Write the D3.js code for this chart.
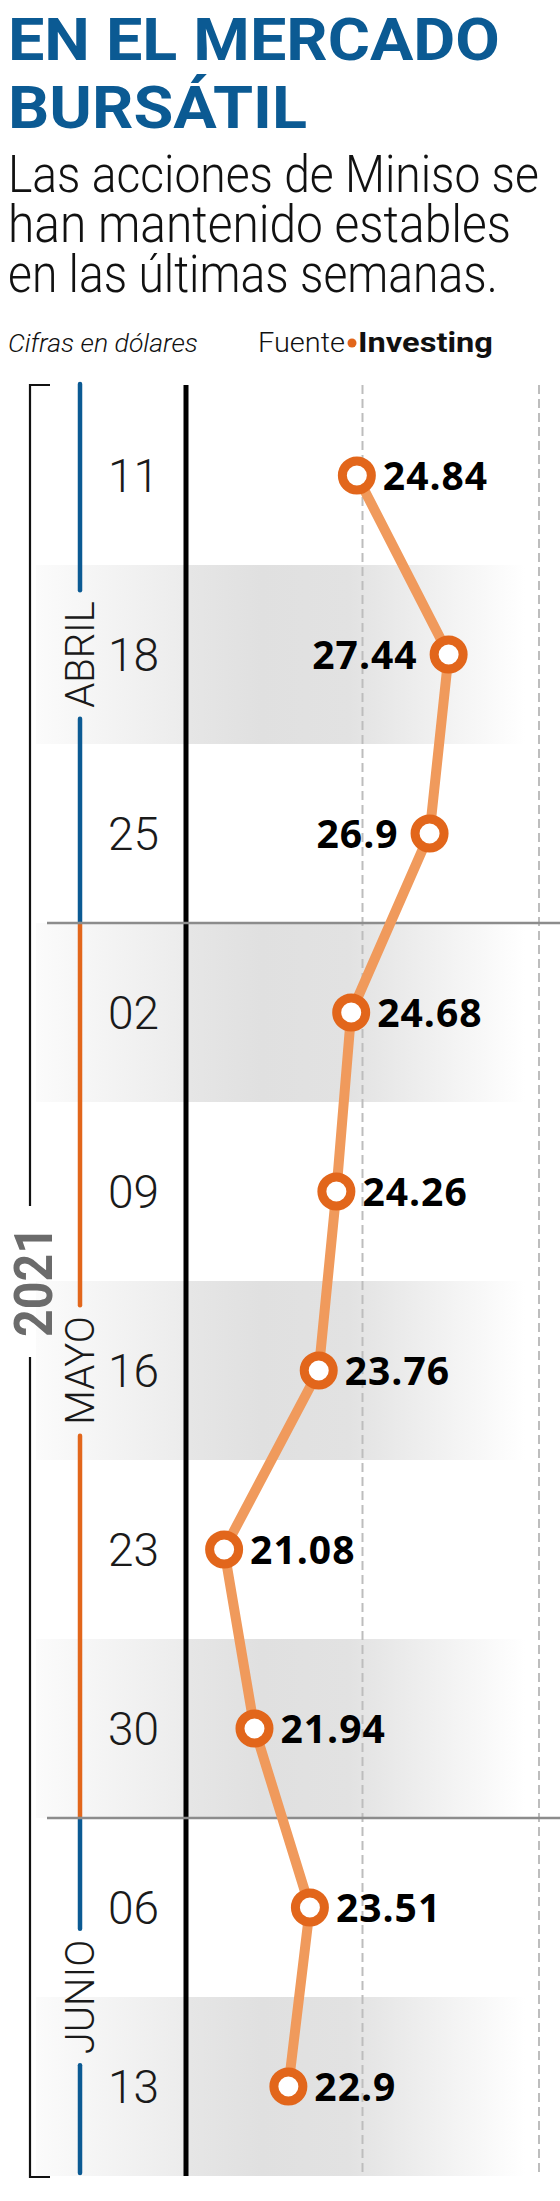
<!DOCTYPE html>
<html>
<head>
<meta charset="utf-8">
<script src="https://cdn.jsdelivr.net/npm/d3@7/dist/d3.min.js"></script>
<style>
  html, body { margin: 0; padding: 0; background: #fff; }
  svg { display: block; }
</style>
</head>
<body>
<svg id="chart" width="560" height="2201"></svg>
<script>
// ---------- DATA ----------
const days = ["11", "18", "25", "02", "09", "16", "23", "30", "06", "13"];
const prices = [24.84, 27.44, 26.9, 24.68, 24.26, 23.76, 21.08, 21.94, 23.51, 22.9];
const months = ["ABRIL", "MAYO", "JUNIO"];
const monthWeeks = [3, 5, 2];
const gridValues = [25, 30];
const yearLabel = "2021";
const titleLines = ["EN EL MERCADO", "BURSÁTIL"];
const subtitleLines = ["Las acciones de Miniso se", "han mantenido estables", "en las últimas semanas."];
const unitNote = "Cifras en dólares";
const sourceLabel = "Fuente";
const sourceName = "Investing";

// ---------- STYLE ----------
const BLUE = "#0b5a93";
const ORANGE = "#e2661b";
const LINE_ORANGE = "#f09a5c";
const monthColors = [BLUE, ORANGE, BLUE];
const FONT = "Roboto, 'Open Sans', sans-serif";

const svg = d3.select("#chart");

// place a text and scale it horizontally to a target width
function fitText(str, x0, y0, width, attrs) {
  const t = svg.append("text").attr("x", 0).attr("y", 0).text(str);
  Object.entries(attrs).forEach(([k, v]) => t.attr(k, v));
  const natural = t.node().getComputedTextLength();
  const k = width / natural;
  t.attr("transform", `translate(${x0},${y0}) scale(${k},1)`);
  return t;
}

// ---------- HEADER ----------
const titleY = [60, 128];
const titleW = [492, 299];
titleLines.forEach((t, i) => {
  fitText(t, 8, titleY[i], titleW[i], {
    "font-family": FONT, "font-weight": 700, "font-size": 60, fill: BLUE
  });
});
const subY = [192, 242, 292];
const subW = [531, 503, 490];
subtitleLines.forEach((t, i) => {
  fitText(t, 8, subY[i], subW[i], {
    "font-family": FONT, "font-weight": 300, "font-size": 52, fill: "#111"
  });
});
fitText(unitNote, 8, 352, 190, {
  "font-family": FONT, "font-style": "italic", "font-weight": 300, "font-size": 26, fill: "#111"
});
fitText(sourceLabel, 258, 352, 87, {
  "font-family": FONT, "font-weight": 300, "font-size": 28, fill: "#111"
});
svg.append("circle").attr("cx", 352).attr("cy", 343).attr("r", 4.5).attr("fill", ORANGE);
fitText(sourceName, 358, 352, 135, {
  "font-family": FONT, "font-weight": 700, "font-size": 28, fill: "#111"
});

// ---------- SCALES ----------
const yTop = 386, yBottom = 2176;
const y = d3.scaleBand().domain(days).range([yTop, yBottom]).paddingInner(0).paddingOuter(0);
const x = d3.scaleLinear().domain([20, 30]).range([186, 539]);
const bw = y.bandwidth();

// ---------- BANDS ----------
const defs = svg.append("defs");
const grad = defs.append("linearGradient").attr("id", "bandGrad")
  .attr("gradientUnits", "userSpaceOnUse")
  .attr("x1", 36).attr("x2", 525).attr("y1", 0).attr("y2", 0);
[[0, "#fbfbfb"], [0.30, "#ececec"], [0.315, "#e6e6e6"], [0.46, "#e0e0e0"],
 [0.64, "#e2e2e2"], [0.80, "#efefef"], [1, "#ffffff"]].forEach(s => {
  grad.append("stop").attr("offset", s[0]).attr("stop-color", s[1]);
});
svg.append("g").selectAll("rect")
  .data(days.filter((d, i) => i % 2 === 1))
  .join("rect")
  .attr("x", 36).attr("width", 560 - 36)
  .attr("y", d => y(d)).attr("height", bw)
  .attr("fill", "url(#bandGrad)");

// ---------- GRIDLINES ----------
svg.append("g").selectAll("line").data(gridValues).join("line")
  .attr("x1", d => x(d)).attr("x2", d => x(d))
  .attr("y1", yTop - 1).attr("y2", yBottom)
  .attr("stroke", "#bdbdbd").attr("stroke-width", 2)
  .attr("stroke-dasharray", "9,5");

// ---------- MONTH LINES ----------
let idx = 0;
const monthInfo = months.map((m, i) => {
  const start = y(days[idx]);
  const end = y(days[idx + monthWeeks[i] - 1]) + bw;
  idx += monthWeeks[i];
  return { name: m, start, end, mid: (start + end) / 2, color: monthColors[i] };
});
const monthG = svg.append("g");
monthInfo.forEach((m, i) => {
  const t = monthG.append("text")
    .attr("transform", `translate(94,${m.mid}) rotate(-90)`)
    .attr("text-anchor", "middle")
    .attr("font-family", FONT)
    .attr("font-weight", 300).attr("font-size", 40)
    .attr("fill", "#1a1a1a")
    .text(m.name);
  const len = t.node().getComputedTextLength();
  const gap = len / 2 + 11;
  const s0 = i === 0 ? m.start : m.start + 1;
  const e1 = i === months.length - 1 ? m.end - 3 : m.end - 1;
  monthG.append("line").attr("x1", 80).attr("x2", 80)
    .attr("y1", i === 0 ? s0 - 2 : s0).attr("y2", m.mid - gap)
    .attr("stroke", m.color).attr("stroke-width", 4.5).attr("stroke-linecap", "round");
  monthG.append("line").attr("x1", 80).attr("x2", 80)
    .attr("y1", m.mid + gap).attr("y2", e1)
    .attr("stroke", m.color).attr("stroke-width", 4.5).attr("stroke-linecap", "round");
});

// ---------- YEAR BRACKET ----------
const yearMid = (yTop + yBottom + 1) / 2;
const yearT = svg.append("text")
  .attr("text-anchor", "middle")
  .attr("font-family", FONT)
  .attr("font-weight", 700).attr("font-size", 53)
  .attr("fill", "#6b6b6b")
  .text(yearLabel);
const yearNat = yearT.node().getComputedTextLength();
yearT.attr("transform", `translate(52,${yearMid}) rotate(-90) scale(${111 / yearNat},1)`);
const yGap = 111 / 2 + 20;
svg.append("path")
  .attr("d", `M50,${yTop - 1}H30V${yearMid - yGap}M30,${yearMid + yGap}V${yBottom + 1}H50`)
  .attr("fill", "none").attr("stroke", "#111").attr("stroke-width", 2.2);

// ---------- AXIS (value 20) ----------
svg.append("line").attr("x1", x(20)).attr("x2", x(20))
  .attr("y1", yTop - 1).attr("y2", yBottom)
  .attr("stroke", "#000").attr("stroke-width", 5);

// ---------- MONTH SEPARATORS ----------
svg.append("g").selectAll("line").data(monthInfo.slice(1)).join("line")
  .attr("x1", 47).attr("x2", 560)
  .attr("y1", d => d.start).attr("y2", d => d.start)
  .attr("stroke", "#8c8c8c").attr("stroke-width", 2.5);

// ---------- DAY LABELS ----------
svg.append("g").selectAll("text").data(days).join("text")
  .attr("x", 159).attr("y", d => y(d) + bw / 2 + 16)
  .attr("text-anchor", "end")
  .attr("font-family", FONT)
  .attr("font-weight", 300).attr("font-size", 46)
  .attr("fill", "#1a1a1a")
  .text(d => d);

// ---------- LINE + POINTS ----------
const pts = days.map((d, i) => ({ day: d, v: prices[i] }));
svg.append("path").datum(pts)
  .attr("d", d3.line().x(p => x(p.v)).y(p => y(p.day) + bw / 2))
  .attr("fill", "none").attr("stroke", LINE_ORANGE)
  .attr("stroke-width", 10).attr("stroke-linejoin", "round");

svg.append("g").selectAll("circle").data(pts).join("circle")
  .attr("cx", p => x(p.v)).attr("cy", p => y(p.day) + bw / 2)
  .attr("r", 14.5).attr("fill", "#fff")
  .attr("stroke", ORANGE).attr("stroke-width", 9);

svg.append("g").selectAll("text").data(pts).join("text")
  .attr("x", p => p.v > 26.5 ? x(p.v) - 31 : x(p.v) + 26)
  .attr("y", p => y(p.day) + bw / 2 + 14)
  .attr("text-anchor", p => p.v > 26.5 ? "end" : "start")
  .attr("font-family", "'Open Sans', Roboto, sans-serif")
  .attr("font-weight", 700).attr("font-size", 39)
  .attr("letter-spacing", 1)
  .attr("fill", "#000")
  .text(p => String(p.v));
</script>
</body>
</html>
